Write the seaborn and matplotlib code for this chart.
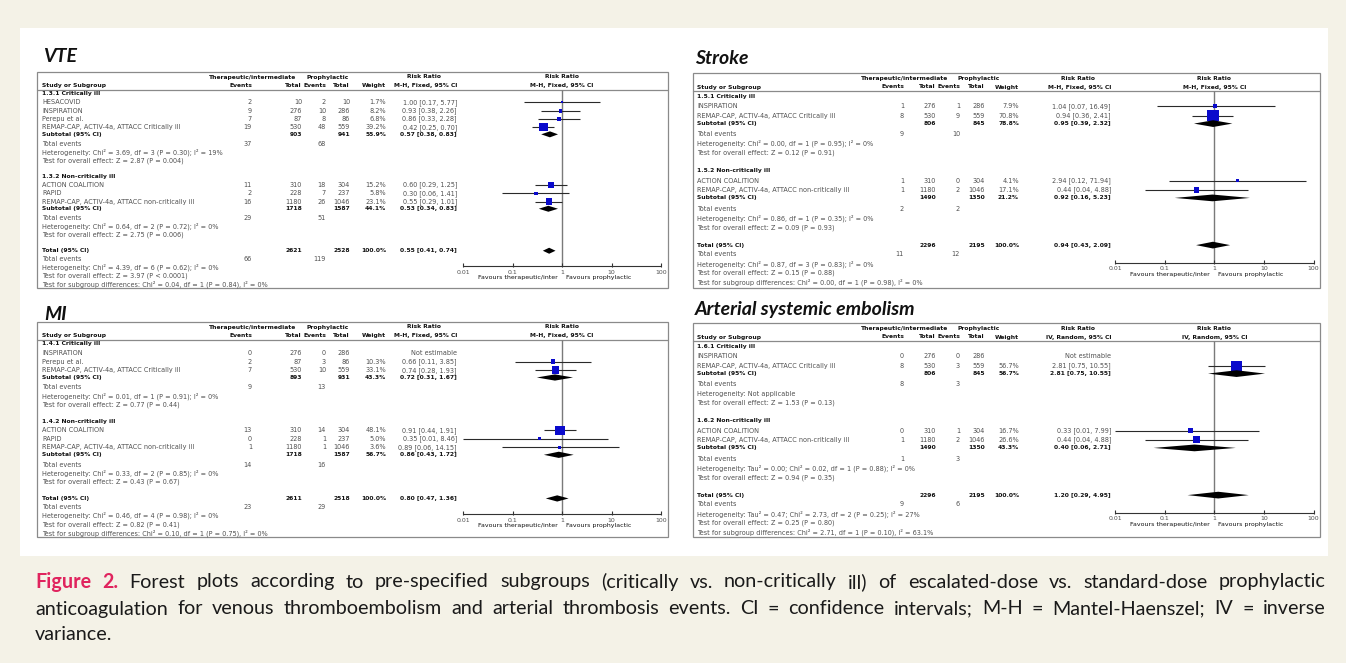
import numpy as np
import pandas as pd
import matplotlib
matplotlib.use("Agg")
import matplotlib.pyplot as plt
from matplotlib.patches import Rectangle
import seaborn as sns

# ---------------------------------------------------------------- data
# VTE
VTE_G1 = "1.3.1 Critically ill"
VTE_G1_STUDY = ["HESACOVID", "INSPIRATION", "Perepu et al.", "REMAP-CAP, ACTIV-4a, ATTACC Critically ill"]
VTE_G1_EV_T = [2, 9, 7, 19]
VTE_G1_N_T = [10, 276, 87, 530]
VTE_G1_EV_P = [2, 10, 8, 48]
VTE_G1_N_P = [10, 286, 86, 559]
VTE_G1_WEIGHT = [1.7, 8.2, 6.8, 39.2]
VTE_G1_RR = [1.00, 0.93, 0.86, 0.42]
VTE_G1_LO = [0.17, 0.38, 0.33, 0.25]
VTE_G1_HI = [5.77, 2.26, 2.28, 0.70]
VTE_G1_SUB = [903, 941, 55.9, 0.57, 0.38, 0.83]
VTE_G1_EVENTS = [37, 68]
VTE_G1_HET = "Heterogeneity: Chi² = 3.69, df = 3 (P = 0.30); I² = 19%"
VTE_G1_TEST = "Test for overall effect: Z = 2.87 (P = 0.004)"

VTE_G2 = "1.3.2 Non-critically ill"
VTE_G2_STUDY = ["ACTION COALITION", "RAPID", "REMAP-CAP, ACTIV-4a, ATTACC non-critically ill"]
VTE_G2_EV_T = [11, 2, 16]
VTE_G2_N_T = [310, 228, 1180]
VTE_G2_EV_P = [18, 7, 26]
VTE_G2_N_P = [304, 237, 1046]
VTE_G2_WEIGHT = [15.2, 5.8, 23.1]
VTE_G2_RR = [0.60, 0.30, 0.55]
VTE_G2_LO = [0.29, 0.06, 0.29]
VTE_G2_HI = [1.25, 1.41, 1.01]
VTE_G2_SUB = [1718, 1587, 44.1, 0.53, 0.34, 0.83]
VTE_G2_EVENTS = [29, 51]
VTE_G2_HET = "Heterogeneity: Chi² = 0.64, df = 2 (P = 0.72); I² = 0%"
VTE_G2_TEST = "Test for overall effect: Z = 2.75 (P = 0.006)"

VTE_TOTAL = [2621, 2528, 100.0, 0.55, 0.41, 0.74]
VTE_TOTAL_EVENTS = [66, 119]
VTE_NOTES = ["Heterogeneity: Chi² = 4.39, df = 6 (P = 0.62); I² = 0%",
             "Test for overall effect: Z = 3.97 (P < 0.0001)",
             "Test for subgroup differences: Chi² = 0.04, df = 1 (P = 0.84), I² = 0%"]

# MI
MI_G1 = "1.4.1 Critically ill"
MI_G1_STUDY = ["INSPIRATION", "Perepu et al.", "REMAP-CAP, ACTIV-4a, ATTACC Critically ill"]
MI_G1_EV_T = [0, 2, 7]
MI_G1_N_T = [276, 87, 530]
MI_G1_EV_P = [0, 3, 10]
MI_G1_N_P = [286, 86, 559]
MI_G1_WEIGHT = [None, 10.3, 33.1]
MI_G1_RR = [None, 0.66, 0.74]
MI_G1_LO = [None, 0.11, 0.28]
MI_G1_HI = [None, 3.85, 1.93]
MI_G1_SUB = [893, 931, 43.3, 0.72, 0.31, 1.67]
MI_G1_EVENTS = [9, 13]
MI_G1_HET = "Heterogeneity: Chi² = 0.01, df = 1 (P = 0.91); I² = 0%"
MI_G1_TEST = "Test for overall effect: Z = 0.77 (P = 0.44)"

MI_G2 = "1.4.2 Non-critically ill"
MI_G2_STUDY = ["ACTION COALITION", "RAPID", "REMAP-CAP, ACTIV-4a, ATTACC non-critically ill"]
MI_G2_EV_T = [13, 0, 1]
MI_G2_N_T = [310, 228, 1180]
MI_G2_EV_P = [14, 1, 1]
MI_G2_N_P = [304, 237, 1046]
MI_G2_WEIGHT = [48.1, 5.0, 3.6]
MI_G2_RR = [0.91, 0.35, 0.89]
MI_G2_LO = [0.44, 0.01, 0.06]
MI_G2_HI = [1.91, 8.46, 14.15]
MI_G2_SUB = [1718, 1587, 56.7, 0.86, 0.43, 1.72]
MI_G2_EVENTS = [14, 16]
MI_G2_HET = "Heterogeneity: Chi² = 0.33, df = 2 (P = 0.85); I² = 0%"
MI_G2_TEST = "Test for overall effect: Z = 0.43 (P = 0.67)"

MI_TOTAL = [2611, 2518, 100.0, 0.80, 0.47, 1.36]
MI_TOTAL_EVENTS = [23, 29]
MI_NOTES = ["Heterogeneity: Chi² = 0.46, df = 4 (P = 0.98); I² = 0%",
            "Test for overall effect: Z = 0.82 (P = 0.41)",
            "Test for subgroup differences: Chi² = 0.10, df = 1 (P = 0.75), I² = 0%"]

# Stroke
ST_G1 = "1.5.1 Critically ill"
ST_G1_STUDY = ["INSPIRATION", "REMAP-CAP, ACTIV-4a, ATTACC Critically ill"]
ST_G1_EV_T = [1, 8]
ST_G1_N_T = [276, 530]
ST_G1_EV_P = [1, 9]
ST_G1_N_P = [286, 559]
ST_G1_WEIGHT = [7.9, 70.8]
ST_G1_RR = [1.04, 0.94]
ST_G1_LO = [0.07, 0.36]
ST_G1_HI = [16.49, 2.41]
ST_G1_SUB = [806, 845, 78.8, 0.95, 0.39, 2.32]
ST_G1_EVENTS = [9, 10]
ST_G1_HET = "Heterogeneity: Chi² = 0.00, df = 1 (P = 0.95); I² = 0%"
ST_G1_TEST = "Test for overall effect: Z = 0.12 (P = 0.91)"

ST_G2 = "1.5.2 Non-critically ill"
ST_G2_STUDY = ["ACTION COALITION", "REMAP-CAP, ACTIV-4a, ATTACC non-critically ill"]
ST_G2_EV_T = [1, 1]
ST_G2_N_T = [310, 1180]
ST_G2_EV_P = [0, 2]
ST_G2_N_P = [304, 1046]
ST_G2_WEIGHT = [4.1, 17.1]
ST_G2_RR = [2.94, 0.44]
ST_G2_LO = [0.12, 0.04]
ST_G2_HI = [71.94, 4.88]
ST_G2_SUB = [1490, 1350, 21.2, 0.92, 0.16, 5.23]
ST_G2_EVENTS = [2, 2]
ST_G2_HET = "Heterogeneity: Chi² = 0.86, df = 1 (P = 0.35); I² = 0%"
ST_G2_TEST = "Test for overall effect: Z = 0.09 (P = 0.93)"

ST_TOTAL = [2296, 2195, 100.0, 0.94, 0.43, 2.09]
ST_TOTAL_EVENTS = [11, 12]
ST_NOTES = ["Heterogeneity: Chi² = 0.87, df = 3 (P = 0.83); I² = 0%",
            "Test for overall effect: Z = 0.15 (P = 0.88)",
            "Test for subgroup differences: Chi² = 0.00, df = 1 (P = 0.98), I² = 0%"]

# Arterial systemic embolism
AE_G1 = "1.6.1 Critically ill"
AE_G1_STUDY = ["INSPIRATION", "REMAP-CAP, ACTIV-4a, ATTACC Critically ill"]
AE_G1_EV_T = [0, 8]
AE_G1_N_T = [276, 530]
AE_G1_EV_P = [0, 3]
AE_G1_N_P = [286, 559]
AE_G1_WEIGHT = [None, 56.7]
AE_G1_RR = [None, 2.81]
AE_G1_LO = [None, 0.75]
AE_G1_HI = [None, 10.55]
AE_G1_SUB = [806, 845, 56.7, 2.81, 0.75, 10.55]
AE_G1_EVENTS = [8, 3]
AE_G1_HET = "Heterogeneity: Not applicable"
AE_G1_TEST = "Test for overall effect: Z = 1.53 (P = 0.13)"

AE_G2 = "1.6.2 Non-critically ill"
AE_G2_STUDY = ["ACTION COALITION", "REMAP-CAP, ACTIV-4a, ATTACC non-critically ill"]
AE_G2_EV_T = [0, 1]
AE_G2_N_T = [310, 1180]
AE_G2_EV_P = [1, 2]
AE_G2_N_P = [304, 1046]
AE_G2_WEIGHT = [16.7, 26.6]
AE_G2_RR = [0.33, 0.44]
AE_G2_LO = [0.01, 0.04]
AE_G2_HI = [7.99, 4.88]
AE_G2_SUB = [1490, 1350, 43.3, 0.40, 0.06, 2.71]
AE_G2_EVENTS = [1, 3]
AE_G2_HET = "Heterogeneity: Tau² = 0.00; Chi² = 0.02, df = 1 (P = 0.88); I² = 0%"
AE_G2_TEST = "Test for overall effect: Z = 0.94 (P = 0.35)"

AE_TOTAL = [2296, 2195, 100.0, 1.20, 0.29, 4.95]
AE_TOTAL_EVENTS = [9, 6]
AE_NOTES = ["Heterogeneity: Tau² = 0.47; Chi² = 2.73, df = 2 (P = 0.25); I² = 27%",
            "Test for overall effect: Z = 0.25 (P = 0.80)",
            "Test for subgroup differences: Chi² = 2.71, df = 1 (P = 0.10), I² = 63.1%"]

AXIS_TICKS = [0.01, 0.1, 1, 10, 100]
AXIS_TICK_LABELS = ["0.01", "0.1", "1", "10", "100"]

CAPTION_LABEL = ["Figure", "2."]
CAPTION_L1 = ("Forest plots according to pre-specified subgroups (critically vs. non-critically ill) "
              "of escalated-dose vs. standard-dose prophylactic")
CAPTION_L2 = ("anticoagulation for venous thromboembolism and arterial thrombosis events. "
              "CI = confidence intervals; M-H = Mantel-Haenszel; IV = inverse")
CAPTION_L3 = "variance."

# ---------------------------------------------------------------- style
W, H = 1346, 663
CREAM = "#f4f2e7"
BLUE = "#0a0acc"
GREY_TXT = "#505050"
DARK = "#111111"
RULE = "#8a8a8a"
CAPTION_RED = "#e0245e"
FS = 4.7        # regular table text
FS_B = 4.3      # bold table text (the bold face runs wide)
FS_AX = 4.5     # axis labels
TABLE_FONT = ["DejaVu Sans"]

sns.set_theme(style="white")
plt.rcParams["font.family"] = TABLE_FONT

fig = plt.figure(figsize=(W / 100, H / 100), dpi=100)
fig.patch.set_facecolor(CREAM)
bg = fig.add_axes([0, 0, 1, 1])
bg.set_xlim(0, W)
bg.set_ylim(H, 0)
bg.axis("off")
bg.add_patch(Rectangle((20, 28), 1308, 528, facecolor="white", edgecolor="none", zorder=0))


def make_group(label, study, ev_t, n_t, ev_p, n_p, weight, rr, lo, hi, sub, events, het, test):
    df = pd.DataFrame({"study": study, "ev_t": ev_t, "n_t": n_t, "ev_p": ev_p, "n_p": n_p,
                       "weight": weight, "rr": rr, "lo": lo, "hi": hi})
    return {"label": label, "df": df, "sub": sub, "events": events, "het": het, "test": test}


def build_rows(groups, total, total_events, notes):
    rows = []
    for gi, g in enumerate(groups):
        rows.append(("group", 0.0 if gi == 0 else 1.9, g["label"]))
        for j in range(len(g["df"])):
            rows.append(("study", 1.05 if j == 0 else 1.0, g["df"].iloc[j]))
        rows.append(("subtotal", 0.85, g["sub"]))
        rows.append(("events", 1.15, g["events"]))
        rows.append(("note", 1.0, g["het"]))
        rows.append(("note", 1.0, g["test"]))
    rows.append(("total", 1.9, total))
    rows.append(("events", 1.0, total_events))
    for s in notes:
        rows.append(("note", 1.0, s))
    return rows


def fmt_rr(rr, lo, hi):
    return f"{rr:.2f} [{lo:.2f}, {hi:.2f}]"


def draw_panel(L, groups, total, total_events, notes, method):
    x0, x1, y0, y1 = L["box"]
    c = L["cols"]
    bg.add_patch(Rectangle((x0, y0), x1 - x0, y1 - y0, fill=False, edgecolor=RULE, lw=0.9, zorder=2))
    bg.plot([x0, x1], [L["rule"], L["rule"]], color=RULE, lw=0.9, zorder=2)
    bg.text(L["title_xy"][0], L["title_xy"][1], L["title"], fontsize=14, fontweight="bold",
            style="italic", family=["Lato", "DejaVu Sans"], va="center", ha="left", color=DARK)

    xa, xb = L["plot_x"]

    def px(v):
        return xa + (np.log10(v) + 2) / 4 * (xb - xa)

    # header
    hb = dict(fontsize=FS_B, fontweight="bold", color=DARK, va="center")
    bg.text(L["hdr_t"], L["hdr1"], "Therapeutic/intermediate", ha="center", **hb)
    bg.text(L["hdr_p"], L["hdr1"], "Prophylactic", ha="center", **hb)
    bg.text(L["hdr_rr"], L["hdr1"], "Risk Ratio", ha="center", **hb)
    bg.text(px(1), L["hdr1"], "Risk Ratio", ha="center", **hb)
    bg.text(c["label"], L["hdr2"], "Study or Subgroup", ha="left", **hb)
    bg.text(c["ev_t"], L["hdr2"], "Events", ha="right", **hb)
    bg.text(c["n_t"], L["hdr2"], "Total", ha="right", **hb)
    bg.text(c["ev_p"], L["hdr2"], "Events", ha="right", **hb)
    bg.text(c["n_p"], L["hdr2"], "Total", ha="right", **hb)
    bg.text(c["w"], L["hdr2"], "Weight", ha="right", **hb)
    bg.text(c["rr"], L["hdr2"], method, ha="right", **hb)
    bg.text(px(1), L["hdr2"], method, ha="center", **hb)

    rows = build_rows(groups, total, total_events, notes)
    span = sum(r[1] for r in rows[1:])
    u = (L["last"] - L["first"]) / span
    ys = L["first"] + u * np.cumsum([r[1] for r in rows])

    norm = dict(fontsize=FS, color=GREY_TXT, va="center")
    bold = dict(fontsize=FS_B, color=DARK, va="center", fontweight="bold")

    pts, ci, diamonds = [], [], []
    for (kind, _, item), y in zip(rows, ys):
        if kind == "group":
            bg.text(c["label"], y, item, ha="left", **bold)
        elif kind == "study":
            bg.text(c["label"], y, item["study"], ha="left", **norm)
            bg.text(c["ev_t"], y, str(item["ev_t"]), ha="right", **norm)
            bg.text(c["n_t"], y, str(item["n_t"]), ha="right", **norm)
            bg.text(c["ev_p"], y, str(item["ev_p"]), ha="right", **norm)
            bg.text(c["n_p"], y, str(item["n_p"]), ha="right", **norm)
            if pd.isna(item["rr"]):
                bg.text(c["rr"], y, "Not estimable", ha="right", **norm)
            else:
                bg.text(c["w"], y, f"{item['weight']:.1f}%", ha="right", **norm)
                bg.text(c["rr"], y, fmt_rr(item["rr"], item["lo"], item["hi"]), ha="right", **norm)
                pts.append((item["rr"], y, item["weight"]))
                ci.append((y, item["lo"], item["hi"]))
        elif kind in ("subtotal", "total"):
            lab = "Subtotal (95% CI)" if kind == "subtotal" else "Total (95% CI)"
            nt, npp, w, rr, lo, hi = item
            bg.text(c["label"], y, lab, ha="left", **bold)
            bg.text(c["n_t"], y, str(nt), ha="right", **bold)
            bg.text(c["n_p"], y, str(npp), ha="right", **bold)
            bg.text(c["w"], y, f"{w:.1f}%", ha="right", **bold)
            bg.text(c["rr"], y, fmt_rr(rr, lo, hi), ha="right", **bold)
            diamonds.append((y, rr, lo, hi))
        elif kind == "events":
            bg.text(c["label"], y, "Total events", ha="left", **norm)
            bg.text(c["ev_t"], y, str(item[0]), ha="right", **norm)
            bg.text(c["ev_p"], y, str(item[1]), ha="right", **norm)
        else:
            bg.text(c["label"], y, item, ha="left", **norm)

    # forest plot axes, y measured in figure pixels
    pax = fig.add_axes([xa / W, 1 - y1 / H, (xb - xa) / W, (y1 - y0) / H])
    pax.set_xscale("log")
    pax.patch.set_alpha(0)

    ay = L["axis_y"]
    pax.vlines(1, L["rule"], ay, color="#7a7a7a", lw=1.0, zorder=1)
    pax.hlines(ay, 0.01, 100, color="#333333", lw=0.8, clip_on=False)
    pax.vlines(AXIS_TICKS, ay - 3, ay + 1, color="#333333", lw=0.8, clip_on=False)
    for t, lab in zip(AXIS_TICKS, AXIS_TICK_LABELS):
        bg.text(px(t), ay + 6, lab, ha="center", va="center", fontsize=FS_AX, color=GREY_TXT)
    bg.text(px(1) - 4, ay + 11.5, "Favours therapeutic/inter", ha="right", va="center",
            fontsize=FS_AX, color=DARK)
    bg.text(px(1) + 4, ay + 11.5, "Favours prophylactic", ha="left", va="center",
            fontsize=FS_AX, color=DARK)

    for y, lo, hi in ci:
        pax.hlines(y, lo, hi, color="#2a2a2a", lw=0.8, zorder=2, clip_on=False)

    sq = pd.DataFrame(pts, columns=["rr", "y", "weight"])
    side_pt = np.maximum(1.35 * np.sqrt(sq["weight"]), 2.0) * 0.72
    size_lookup = dict(sorted(zip(sq["weight"], side_pt ** 2)))
    sns.scatterplot(data=sq, x="rr", y="y", size="weight", sizes=size_lookup, marker="s",
                    color=BLUE, linewidth=0, legend=False, ax=pax, zorder=3, clip_on=False)

    hh = 0.36 * u
    for y, rr, lo, hi in diamonds:
        pax.fill([lo, rr, hi, rr], [y, y - hh, y, y + hh], color="black", lw=0, zorder=3,
                 clip_on=False)

    pax.set_xlim(0.01, 100)
    pax.set_ylim(y1, y0)
    pax.axis("off")


LEFT_COLS = {"label": 42, "ev_t": 252, "n_t": 302, "ev_p": 326, "n_p": 350, "w": 386, "rr": 457}
RIGHT_COLS = {"label": 697, "ev_t": 904, "n_t": 936, "ev_p": 960, "n_p": 985, "w": 1019, "rr": 1111}

VTE_LAYOUT = dict(title="VTE", title_xy=(43, 56), box=(37, 668, 72, 288), rule=89.5,
                  hdr1=77, hdr2=85.3, hdr_t=253, hdr_p=328, hdr_rr=424, cols=LEFT_COLS,
                  plot_x=(463, 661), axis_y=266, first=93.6, last=284)
MI_LAYOUT = dict(title="MI", title_xy=(44, 314), box=(37, 668, 322, 537), rule=340,
                 hdr1=327, hdr2=335.5, hdr_t=253, hdr_p=328, hdr_rr=424, cols=LEFT_COLS,
                 plot_x=(463, 661), axis_y=514, first=343.8, last=533)
ST_LAYOUT = dict(title="Stroke", title_xy=(695, 58), box=(693, 1320, 72.5, 287.5), rule=91,
                 hdr1=78.5, hdr2=87, hdr_t=905, hdr_p=979, hdr_rr=1078, cols=RIGHT_COLS,
                 plot_x=(1115, 1313.5), axis_y=263, first=96.5, last=282.5)
AE_LAYOUT = dict(title="Arterial systemic embolism", title_xy=(695, 309.5),
                 box=(693, 1320, 322.5, 537), rule=341,
                 hdr1=328.5, hdr2=337, hdr_t=905, hdr_p=979, hdr_rr=1078, cols=RIGHT_COLS,
                 plot_x=(1115, 1313.5), axis_y=513, first=346.5, last=532.5)

draw_panel(VTE_LAYOUT,
           [make_group(VTE_G1, VTE_G1_STUDY, VTE_G1_EV_T, VTE_G1_N_T, VTE_G1_EV_P, VTE_G1_N_P,
                       VTE_G1_WEIGHT, VTE_G1_RR, VTE_G1_LO, VTE_G1_HI, VTE_G1_SUB,
                       VTE_G1_EVENTS, VTE_G1_HET, VTE_G1_TEST),
            make_group(VTE_G2, VTE_G2_STUDY, VTE_G2_EV_T, VTE_G2_N_T, VTE_G2_EV_P, VTE_G2_N_P,
                       VTE_G2_WEIGHT, VTE_G2_RR, VTE_G2_LO, VTE_G2_HI, VTE_G2_SUB,
                       VTE_G2_EVENTS, VTE_G2_HET, VTE_G2_TEST)],
           VTE_TOTAL, VTE_TOTAL_EVENTS, VTE_NOTES, "M-H, Fixed, 95% CI")
draw_panel(MI_LAYOUT,
           [make_group(MI_G1, MI_G1_STUDY, MI_G1_EV_T, MI_G1_N_T, MI_G1_EV_P, MI_G1_N_P,
                       MI_G1_WEIGHT, MI_G1_RR, MI_G1_LO, MI_G1_HI, MI_G1_SUB,
                       MI_G1_EVENTS, MI_G1_HET, MI_G1_TEST),
            make_group(MI_G2, MI_G2_STUDY, MI_G2_EV_T, MI_G2_N_T, MI_G2_EV_P, MI_G2_N_P,
                       MI_G2_WEIGHT, MI_G2_RR, MI_G2_LO, MI_G2_HI, MI_G2_SUB,
                       MI_G2_EVENTS, MI_G2_HET, MI_G2_TEST)],
           MI_TOTAL, MI_TOTAL_EVENTS, MI_NOTES, "M-H, Fixed, 95% CI")
draw_panel(ST_LAYOUT,
           [make_group(ST_G1, ST_G1_STUDY, ST_G1_EV_T, ST_G1_N_T, ST_G1_EV_P, ST_G1_N_P,
                       ST_G1_WEIGHT, ST_G1_RR, ST_G1_LO, ST_G1_HI, ST_G1_SUB,
                       ST_G1_EVENTS, ST_G1_HET, ST_G1_TEST),
            make_group(ST_G2, ST_G2_STUDY, ST_G2_EV_T, ST_G2_N_T, ST_G2_EV_P, ST_G2_N_P,
                       ST_G2_WEIGHT, ST_G2_RR, ST_G2_LO, ST_G2_HI, ST_G2_SUB,
                       ST_G2_EVENTS, ST_G2_HET, ST_G2_TEST)],
           ST_TOTAL, ST_TOTAL_EVENTS, ST_NOTES, "M-H, Fixed, 95% CI")
draw_panel(AE_LAYOUT,
           [make_group(AE_G1, AE_G1_STUDY, AE_G1_EV_T, AE_G1_N_T, AE_G1_EV_P, AE_G1_N_P,
                       AE_G1_WEIGHT, AE_G1_RR, AE_G1_LO, AE_G1_HI, AE_G1_SUB,
                       AE_G1_EVENTS, AE_G1_HET, AE_G1_TEST),
            make_group(AE_G2, AE_G2_STUDY, AE_G2_EV_T, AE_G2_N_T, AE_G2_EV_P, AE_G2_N_P,
                       AE_G2_WEIGHT, AE_G2_RR, AE_G2_LO, AE_G2_HI, AE_G2_SUB,
                       AE_G2_EVENTS, AE_G2_HET, AE_G2_TEST)],
           AE_TOTAL, AE_TOTAL_EVENTS, AE_NOTES, "IV, Random, 95% CI")

# ---------------------------------------------------------------- caption (justified)
renderer = fig.canvas.get_renderer()
CAP_FS = 14.2
CAP_FONT = ["Lato", "DejaVu Sans"]


def justified_line(y, words, x0, x1):
    texts = []
    for w, color, weight in words:
        t = bg.text(0, y, w, fontsize=CAP_FS, color=color, fontweight=weight,
                    family=CAP_FONT, va="center", ha="left")
        texts.append(t)
    widths = [t.get_window_extent(renderer).width for t in texts]
    gap = (x1 - x0 - sum(widths)) / (len(texts) - 1)
    x = x0
    for t, wd in zip(texts, widths):
        t.set_x(x)
        x += wd + gap


line1 = [(w, CAPTION_RED, "bold") for w in CAPTION_LABEL] + \
        [(w, "#1a1a1a", "normal") for w in CAPTION_L1.split()]
line2 = [(w, "#1a1a1a", "normal") for w in CAPTION_L2.split()]
justified_line(582, line1, 35, 1326)
justified_line(609, line2, 35, 1326)
bg.text(35, 635, CAPTION_L3, fontsize=CAP_FS, color="#1a1a1a", family=CAP_FONT,
        va="center", ha="left")

fig.savefig("out.png", dpi=100, facecolor=fig.get_facecolor())
